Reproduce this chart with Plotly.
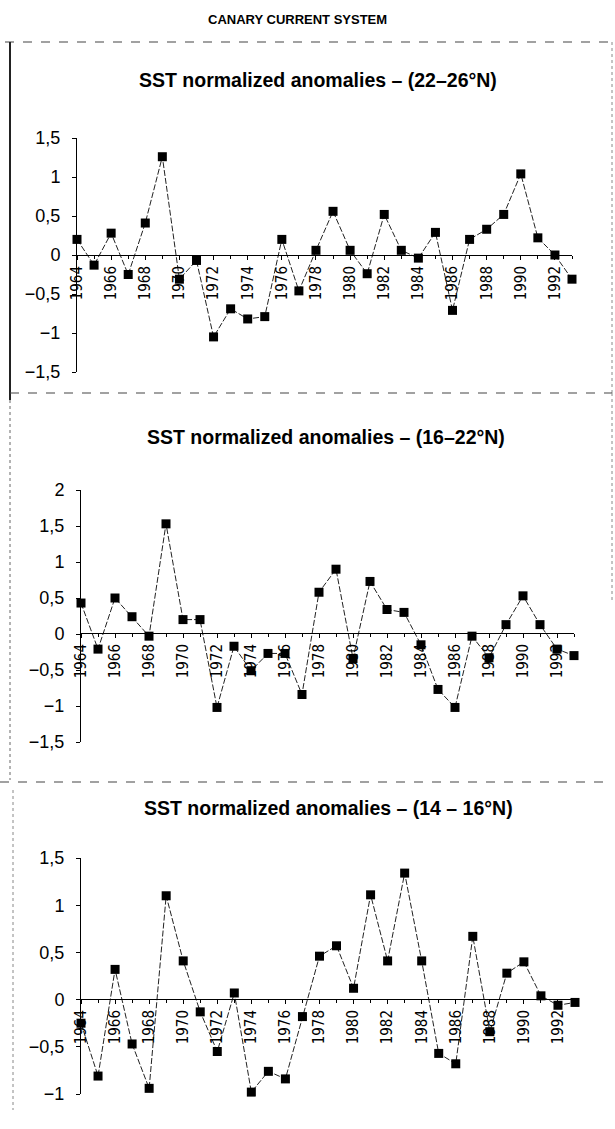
import plotly.graph_objects as go

W, H = 615, 1129

years = [1964, 1965, 1966, 1967, 1968, 1969, 1970, 1971, 1972, 1973,
         1974, 1975, 1976, 1977, 1978, 1979, 1980, 1981, 1982, 1983,
         1984, 1985, 1986, 1987, 1988, 1989, 1990, 1991, 1992, 1993]

sst_22_26 = [0.20, -0.13, 0.28, -0.25, 0.41, 1.26, -0.31, -0.07, -1.05, -0.69,
             -0.82, -0.79, 0.20, -0.46, 0.06, 0.56, 0.06, -0.24, 0.52, 0.06,
             -0.04, 0.29, -0.71, 0.20, 0.33, 0.52, 1.04, 0.22, 0.00, -0.31]

sst_16_22 = [0.43, -0.21, 0.50, 0.24, -0.03, 1.53, 0.20, 0.20, -1.02, -0.17,
             -0.51, -0.27, -0.27, -0.84, 0.58, 0.90, -0.34, 0.73, 0.34, 0.30,
             -0.15, -0.77, -1.02, -0.03, -0.33, 0.13, 0.53, 0.13, -0.21, -0.30]

sst_14_16 = [-0.25, -0.81, 0.32, -0.47, -0.94, 1.10, 0.41, -0.13, -0.55, 0.07,
             -0.98, -0.76, -0.84, -0.18, 0.46, 0.57, 0.12, 1.11, 0.41, 1.34,
             0.41, -0.57, -0.68, 0.67, -0.34, 0.28, 0.40, 0.04, -0.06, -0.03]

x_tickvals = [1964, 1966, 1968, 1970, 1972, 1974, 1976, 1978, 1980, 1982,
              1984, 1986, 1988, 1990, 1992]
x_ticktext = ["1964", "1966", "1968", "1970", "1972", "1974", "1976", "1978",
              "1980", "1982", "1984", "1986", "1988", "1990", "1992"]

y1_vals = [-1.5, -1, -0.5, 0, 0.5, 1, 1.5]
y1_text = ["\u22121,5", "\u22121", "\u22120,5", "0", "0,5", "1", "1,5"]
y2_vals = [-1.5, -1, -0.5, 0, 0.5, 1, 1.5, 2]
y2_text = ["\u22121,5", "\u22121", "\u22120,5", "0", "0,5", "1", "1,5", "2"]
y3_vals = [-1, -0.5, 0, 0.5, 1, 1.5]
y3_text = ["\u22121", "\u22120,5", "0", "0,5", "1", "1,5"]

main_title = "CANARY CURRENT SYSTEM"
panel_titles = ["SST normalized anomalies \u2013 (22\u201326\u00b0N)",
                "SST normalized anomalies \u2013 (16\u201322\u00b0N)",
                "SST normalized anomalies \u2013 (14 \u2013 16\u00b0N)"]

# panel geometry in pixels
panels = [
    dict(data=sst_22_26, xl=77, xr=572, yt=138, yb=372, yr=[-1.5, 1.5], zero=255,
         tv=y1_vals, tt=y1_text, title_y=80, title_x=318),
    dict(data=sst_16_22, xl=81, xr=574, yt=490, yb=742, yr=[-1.5, 2.0], zero=633,
         tv=y2_vals, tt=y2_text, title_y=437, title_x=326),
    dict(data=sst_14_16, xl=81, xr=575, yt=858, yb=1094, yr=[-1.0, 1.5], zero=999,
         tv=y3_vals, tt=y3_text, title_y=808, title_x=328),
]

FONT = "Liberation Sans, Arial, Helvetica, sans-serif"
NARROW = "Liberation Sans Narrow, DejaVu Sans Condensed, Arial Narrow, sans-serif"

fig = go.Figure()
layout = dict(
    width=W, height=H, margin=dict(l=0, r=0, t=0, b=0, pad=0),
    paper_bgcolor="white", plot_bgcolor="rgba(0,0,0,0)",
    showlegend=False, template="none",
    font=dict(family=FONT, color="black"),
)

annotations = [dict(text="<b>" + main_title + "</b>", x=297 / W, y=1 - 20 / H,
                    xref="paper", yref="paper", showarrow=False,
                    font=dict(size=13, family=FONT, color="black"),
                    xanchor="center", yanchor="middle")]

for i, p in enumerate(panels):
    n = i + 1
    xa = "x" if n == 1 else f"x{n}"
    ya = "y" if n == 1 else f"y{n}"
    fig.add_trace(go.Scatter(
        x=years, y=p["data"], xaxis=xa, yaxis=ya, mode="lines+markers",
        line=dict(color="#222", width=1, dash="6px,2px"),
        marker=dict(symbol="square", size=9, color="black"),
        cliponaxis=False,
    ))
    layout["xaxis" if n == 1 else f"xaxis{n}"] = dict(
        domain=[p["xl"] / W, p["xr"] / W], range=[1964, 1993],
        anchor="free", position=1 - p["zero"] / H,
        showline=True, linecolor="black", linewidth=1,
        showgrid=False, zeroline=False, automargin=False,
        tickmode="array", tickvals=x_tickvals, ticktext=x_ticktext,
        ticks="outside", ticklen=4, tickcolor="black", tickwidth=1,
        minor=dict(tickmode="linear", tick0=1964, dtick=1, ticks="outside",
                   ticklen=3, tickcolor="black", showgrid=False),
        tickangle=-90, tickfont=dict(family=NARROW, size=15, color="black"),
    )
    layout["yaxis" if n == 1 else f"yaxis{n}"] = dict(
        domain=[1 - p["yb"] / H, 1 - p["yt"] / H], range=p["yr"],
        anchor=xa, showline=True, linecolor="black", linewidth=1,
        showgrid=False, zeroline=False, automargin=False,
        tickmode="array", tickvals=p["tv"], ticktext=p["tt"],
        ticks="outside", ticklen=4, tickcolor="black",
        ticklabelstandoff=8,
        tickfont=dict(family=FONT, size=18, color="black"),
    )
    annotations.append(dict(
        text="<b>" + panel_titles[i] + "</b>", x=p["title_x"] / W, y=1 - p["title_y"] / H,
        xref="paper", yref="paper", showarrow=False,
        font=dict(size=19.5, family=FONT, color="black"),
        xanchor="center", yanchor="middle"))

def pline(x0, y0, x1, y1, width=1, dash="solid", color="#333"):
    return dict(type="line", xref="paper", yref="paper",
                x0=x0 / W, x1=x1 / W, y0=1 - y0 / H, y1=1 - y1 / H,
                line=dict(color=color, width=width, dash=dash))

shapes = [
    pline(5, 42, 612, 42, 1.2, "dash", "#444"),
    pline(10, 42, 10, 400, 2, "solid", "#222"),
    pline(612, 42, 612, 393, 1, "dot", "#888"),
    pline(10, 393, 612, 393, 1.2, "dash", "#444"),
    pline(10, 400, 10, 780, 1, "dot", "#666"),
    pline(612, 393, 612, 600, 1, "dot", "#888"),
    pline(0, 782, 612, 782, 1.2, "dash", "#444"),
    pline(13, 790, 13, 1110, 1, "dot", "#888"),
]

layout["annotations"] = annotations
layout["shapes"] = shapes
fig.update_layout(**layout)
fig.write_html("out.html", config={"displayModeBar": False},
               post_script="document.body.style.margin='0px';document.body.style.padding='0px';")
